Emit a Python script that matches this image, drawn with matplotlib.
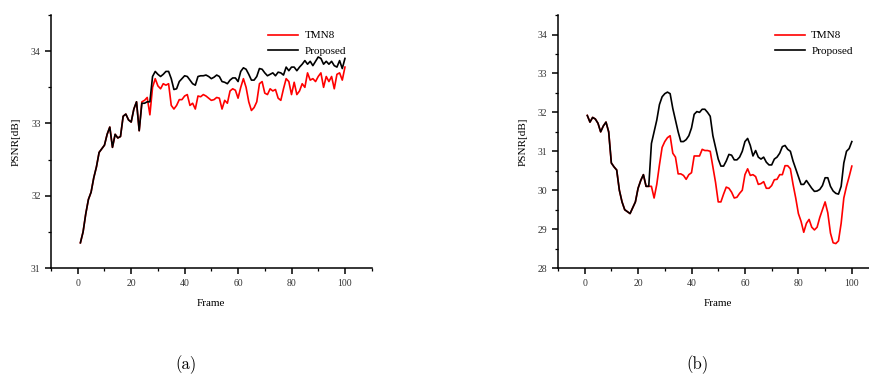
import numpy as np
import matplotlib
matplotlib.use('Agg')
import matplotlib.pyplot as plt
from matplotlib.ticker import MultipleLocator

plt.rcParams['font.family'] = ['Liberation Serif', 'DejaVu Serif']

frames = np.arange(1, 101)

# panel (a)
tmn8_a = [31.35, 31.5, 31.75, 31.95, 32.05, 32.25, 32.4, 32.6, 32.65, 32.7,
          32.85, 32.95, 32.67, 32.85, 32.8, 32.82, 33.1, 33.13, 33.05, 33.02,
          33.2, 33.3, 32.9, 33.3, 33.32, 33.36, 33.12, 33.5, 33.62, 33.52,
          33.48, 33.55, 33.53, 33.55, 33.25, 33.2, 33.25, 33.33, 33.33, 33.38,
          33.4, 33.25, 33.28, 33.2, 33.38, 33.37, 33.4, 33.38, 33.35, 33.32,
          33.33, 33.36, 33.35, 33.2, 33.32, 33.28, 33.45, 33.48, 33.46, 33.35,
          33.5, 33.62, 33.5, 33.3, 33.18, 33.22, 33.3, 33.55, 33.58, 33.42,
          33.4, 33.48, 33.45, 33.47, 33.35, 33.32, 33.48, 33.62, 33.58, 33.4,
          33.57, 33.4, 33.45, 33.55, 33.5, 33.7, 33.6, 33.62, 33.58, 33.65,
          33.7, 33.5, 33.65, 33.58, 33.65, 33.48, 33.68, 33.7, 33.6, 33.78]
prop_a = [31.35, 31.5, 31.75, 31.95, 32.05, 32.25, 32.4, 32.6, 32.65, 32.7,
          32.85, 32.95, 32.67, 32.85, 32.8, 32.82, 33.1, 33.13, 33.05, 33.02,
          33.2, 33.3, 32.9, 33.28, 33.28, 33.3, 33.3, 33.65, 33.72, 33.68,
          33.65, 33.68, 33.72, 33.72, 33.62, 33.47, 33.48, 33.58, 33.62, 33.66,
          33.65, 33.6, 33.55, 33.53, 33.65, 33.66, 33.66, 33.67, 33.65, 33.62,
          33.64, 33.67, 33.65, 33.58, 33.57, 33.55, 33.6, 33.63, 33.63, 33.58,
          33.72, 33.77, 33.75, 33.68, 33.6, 33.6, 33.65, 33.76, 33.75, 33.7,
          33.66, 33.68, 33.7, 33.66, 33.71, 33.7, 33.67, 33.78, 33.73, 33.78,
          33.78, 33.73, 33.78, 33.82, 33.87, 33.82, 33.86, 33.8, 33.86, 33.92,
          33.9, 33.82, 33.86, 33.82, 33.86, 33.8, 33.78, 33.87, 33.76, 33.9]

# panel (b)
tmn8_b = [31.92, 31.75, 31.87, 31.83, 31.72, 31.5, 31.65, 31.75, 31.5, 30.7,
          30.6, 30.52, 30.0, 29.7, 29.5, 29.45, 29.4, 29.55, 29.7, 30.05,
          30.25, 30.4, 30.1, 30.1, 30.1, 29.8, 30.15, 30.65, 31.1, 31.25,
          31.35, 31.4, 30.95, 30.85, 30.42, 30.42, 30.38, 30.28, 30.4, 30.45,
          30.88, 30.88, 30.88, 31.05, 31.02, 31.02, 31.0, 30.6, 30.2, 29.7,
          29.7, 29.9, 30.08, 30.05, 29.95, 29.8, 29.82, 29.92, 30.0, 30.4,
          30.55, 30.38, 30.4, 30.35, 30.15, 30.17, 30.22, 30.05, 30.05, 30.12,
          30.27, 30.28, 30.4, 30.4, 30.63, 30.63, 30.55, 30.15, 29.8, 29.4,
          29.2, 28.92, 29.15, 29.25, 29.05, 28.98, 29.05, 29.3, 29.5, 29.7,
          29.42, 28.9, 28.65, 28.63, 28.7, 29.15, 29.8, 30.1, 30.35, 30.62]
prop_b = [31.92, 31.75, 31.87, 31.83, 31.72, 31.5, 31.65, 31.75, 31.5, 30.7,
          30.6, 30.52, 30.0, 29.7, 29.5, 29.45, 29.4, 29.55, 29.7, 30.05,
          30.25, 30.4, 30.1, 30.1, 31.2, 31.5, 31.8, 32.2, 32.4, 32.48,
          32.52, 32.48, 32.1, 31.8, 31.5, 31.25, 31.25, 31.3, 31.4, 31.6,
          31.95, 32.02, 32.0, 32.08, 32.08, 32.0, 31.9, 31.4, 31.1, 30.8,
          30.62, 30.62, 30.75, 30.92, 30.9, 30.78, 30.78, 30.85, 31.0, 31.25,
          31.33, 31.15, 30.88, 31.02, 30.85, 30.8, 30.85, 30.72, 30.65, 30.65,
          30.8, 30.85, 30.95, 31.12, 31.15, 31.05, 31.0, 30.75, 30.55, 30.35,
          30.15, 30.15, 30.25, 30.15, 30.05, 29.97, 29.98, 30.02, 30.12, 30.32,
          30.32, 30.1, 29.98, 29.92, 29.9, 30.1, 30.7, 31.0, 31.07, 31.25]

fig = plt.figure(figsize=(8.69, 3.76), dpi=100)
ax1 = fig.add_axes([0.0587, 0.287, 0.369, 0.673])
ax2 = fig.add_axes([0.642, 0.287, 0.369, 0.673])

panels = [(ax1, tmn8_a, prop_a, (31, 34.5)), (ax2, tmn8_b, prop_b, (28, 34.5))]
for ax, red, black, ylim in panels:
    ax.plot(frames, red, color='#ff0000', lw=1.2, label='TMN8')
    ax.plot(frames, black, color='black', lw=1.2, label='Proposed')
    ax.set_xlim(-10, 110)
    ax.set_ylim(*ylim)
    ax.xaxis.set_major_locator(MultipleLocator(20))
    ax.xaxis.set_minor_locator(MultipleLocator(10))
    ax.yaxis.set_minor_locator(MultipleLocator(0.5))
    ax.set_yticks(np.arange(ylim[0], 34.01, 1))
    for s in ['top', 'right']:
        ax.spines[s].set_visible(False)
    for s in ['left', 'bottom']:
        ax.spines[s].set_linewidth(1.1)
    ax.tick_params(which='major', direction='out', length=4, width=1.1,
                   labelsize=7, colors='black', labelcolor='#333333')
    ax.tick_params(which='minor', direction='out', length=2.5, width=0.9)
    ax.set_xlabel('Frame', fontsize=8, labelpad=8)
    ax.set_ylabel('PSNR[dB]', fontsize=8, labelpad=7)
    ax.legend(loc='upper left', bbox_to_anchor=(0.66, 0.96), frameon=False,
              fontsize=8, handlelength=2.7, handletextpad=0.55,
              borderpad=0, labelspacing=0.55)

fig.text(186 / 869, 1 - 365 / 376, '(a)', family='cmr10', fontsize=12,
         ha='center', va='center')
fig.text(697 / 869, 1 - 365 / 376, '(b)', family='cmr10', fontsize=12,
         ha='center', va='center')

fig.savefig('out.png', dpi=100)
